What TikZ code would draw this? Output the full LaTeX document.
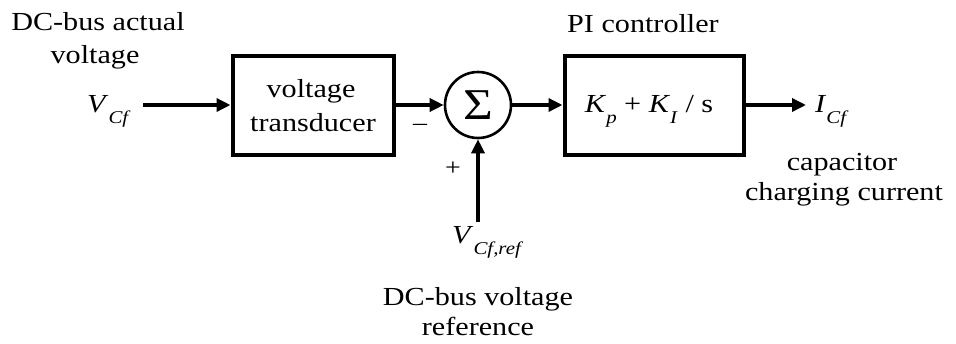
\documentclass[tikz,border=0pt]{standalone}
\usepackage{fontspec}
\setmainfont{Liberation Serif}[FakeStretch=1.16]
\usetikzlibrary{arrows.meta}
\newcommand{\mysub}[1]{\raisebox{-0.45em}{\fontsize{18}{18}\selectfont\textit{#1}}}
\begin{document}
\begin{tikzpicture}[x=1pt,y=-1pt,
  txt/.style={font=\fontsize{26}{33}\selectfont, inner sep=0pt},
  blk/.style={draw, line width=4pt, inner sep=0pt},
  sumnode/.style={draw, circle, line width=2.6pt, minimum size=66pt, inner sep=0pt},
  arr/.style={line width=3.4pt, -{Triangle[length=14pt,width=13pt]}},
  sgn/.style={font=\fontsize{24}{24}\selectfont, inner sep=0pt}]
\useasboundingbox (0,0) rectangle (956,343);
% blocks
\node[blk, minimum width=161pt, minimum height=99pt] (tr) at (313,105) {};
\node[txt, anchor=base] (tr1) at (311,97) {voltage};
\node[txt, anchor=base] (tr2) at (313,131) {transducer};
\node[sumnode] (sum) at (478,105) {};
\node[font=\fontsize{44}{44}\selectfont, inner sep=0pt] (sig) at (478,105) {Σ};
\node[blk, minimum width=179pt, minimum height=99pt] (pi) at (654,105) {};
\node[txt, anchor=base] (pitxt) at (649,112) {\textit{K}\mysub{p} + \textit{K}\mysub{I} / s};
% labels
\node[txt, anchor=base] (l1) at (98,30) {DC-bus actual};
\node[txt, anchor=base] (l2) at (95,63) {voltage};
\node[txt, anchor=base west] (vcf) at (87,112) {\textit{V}\mysub{Cf}};
\node[txt, anchor=base] (pil) at (643,32) {PI controller};
\node[txt, anchor=base west] (icf) at (815,112) {\textit{I}\mysub{Cf}};
\node[txt, anchor=base] (c1) at (842,170) {capacitor};
\node[txt, anchor=base] (c2) at (844,200) {charging current};
\node[txt, anchor=base west] (vref) at (452,243) {\textit{V}\mysub{Cf,ref}};
\node[txt, anchor=base] (r1) at (478,305) {DC-bus voltage};
\node[txt, anchor=base] (r2) at (478,335) {reference};
\node[sgn] (minus) at (420,127) {–};
\node[sgn] (plus) at (453,169) {+};
% connectors
\coordinate (in) at (143,105);
\coordinate (out) at (806,105);
\coordinate (refin) at (478,222);
\draw[arr] (in) -- (tr.west);
\draw[arr] (tr.east) -- (sum.west);
\draw[arr] (sum.east) -- (pi.west);
\draw[arr] (pi.east) -- (out);
\draw[arr] (refin) -- (sum.south);
\end{tikzpicture}
\end{document}
